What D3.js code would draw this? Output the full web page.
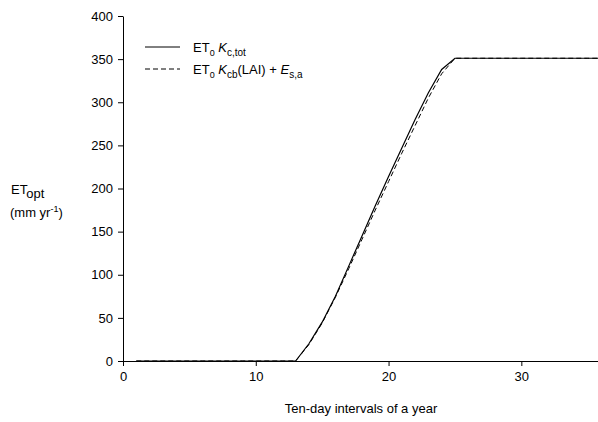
<!DOCTYPE html>
<html>
<head>
<meta charset="utf-8">
<script src="https://cdn.jsdelivr.net/npm/d3@7"></script>
<style>
  body { margin: 0; background: #fff; }
  svg text { font-family: "Liberation Sans", Arial, sans-serif; fill: #000; }
</style>
</head>
<body>
<svg id="chart" width="598" height="422"></svg>
<script>
// ten-day intervals of a year
var intervals = d3.range(1, 37);

// ET0 Kc,tot (solid)
var etKcTot = [0,0,0,0,0,0,0,0,0,0,0,0,0,20,45,75,110,145,180,214,247,280,311,338,351,
  351,351,351,351,351,351,351,351,351,351,351];

// ET0 Kcb(LAI) + Es,a (dashed)
var etKcbEs = [0,0,0,0,0,0,0,0,0,0,0,0,0,19,44,74,107,141,175,208,241,273,305,333,351,
  351,351,351,351,351,351,351,351,351,351,351];

var xTicks = [0, 10, 20, 30];
var yTicks = [0, 50, 100, 150, 200, 250, 300, 350, 400];

var svg = d3.select("#chart");

var x = d3.scaleLinear().domain([0, 36]).range([123, 601]);
var y = d3.scaleLinear().domain([0, 400]).range([361, 16]);

// axes
svg.append("g")
  .attr("transform", "translate(0," + y(0) + ")")
  .call(d3.axisBottom(x).tickValues(xTicks).tickSize(5).tickSizeOuter(0).tickPadding(6));

svg.append("g")
  .attr("transform", "translate(" + x(0) + ",0)")
  .call(d3.axisLeft(y).tickValues(yTicks).tickSize(5).tickSizeOuter(0).tickPadding(5));

svg.selectAll(".domain, .tick line").attr("stroke", "#000").attr("stroke-width", 1);
svg.selectAll(".tick text").style("font-size", "13px").style("font-family", "Liberation Sans, Arial, sans-serif");

// lines
var line = d3.line()
  .x(function(d, i) { return x(intervals[i]); })
  .y(function(d) { return y(d); });

svg.append("path")
  .datum(etKcTot)
  .attr("fill", "none")
  .attr("stroke", "#000")
  .attr("stroke-width", 1.2)
  .attr("d", line);

svg.append("path")
  .datum(etKcbEs)
  .attr("fill", "none")
  .attr("stroke", "#000")
  .attr("stroke-width", 1)
  .attr("stroke-dasharray", "5,3")
  .attr("d", line);

// legend
var lg = svg.append("g").attr("transform", "translate(145,0)");
lg.append("line").attr("x1", 0).attr("x2", 35).attr("y1", 47).attr("y2", 47)
  .attr("stroke", "#000").attr("stroke-width", 1);
lg.append("line").attr("x1", 0).attr("x2", 35).attr("y1", 69).attr("y2", 69)
  .attr("stroke", "#000").attr("stroke-width", 1).attr("stroke-dasharray", "5,3");

var t1 = lg.append("text").attr("x", 48).attr("y", 52).style("font-size", "13px");
t1.append("tspan").text("ET");
t1.append("tspan").attr("dy", 4).style("font-size", "9px").text("0");
t1.append("tspan").attr("dy", -4).text(" ");
t1.append("tspan").style("font-style", "italic").text("K");
t1.append("tspan").attr("dy", 4).style("font-size", "10px").text("c,tot");

var t2 = lg.append("text").attr("x", 48).attr("y", 74).style("font-size", "13px");
t2.append("tspan").text("ET");
t2.append("tspan").attr("dy", 4).style("font-size", "9px").text("0");
t2.append("tspan").attr("dy", -4).text(" ");
t2.append("tspan").style("font-style", "italic").text("K");
t2.append("tspan").attr("dy", 4).style("font-size", "10px").text("cb");
t2.append("tspan").attr("dy", -4).text("(LAI) + ");
t2.append("tspan").style("font-style", "italic").text("E");
t2.append("tspan").attr("dy", 4).style("font-size", "10px").text("s,a");

// y label
var yl = svg.append("text").attr("x", 11).attr("y", 194).style("font-size", "13px");
yl.append("tspan").text("ET");
yl.append("tspan").attr("dy", 4).style("font-size", "13px").text("opt");
var yl2 = svg.append("text").attr("x", 10).attr("y", 217).style("font-size", "13px");
yl2.append("tspan").text("(mm yr");
yl2.append("tspan").attr("dy", -5).style("font-size", "9px").text("-1");
yl2.append("tspan").attr("dy", 5).text(")");

// x label
svg.append("text").attr("x", 361).attr("y", 413).attr("text-anchor", "middle")
  .style("font-size", "13px").text("Ten-day intervals of a year");
</script>
</body>
</html>
